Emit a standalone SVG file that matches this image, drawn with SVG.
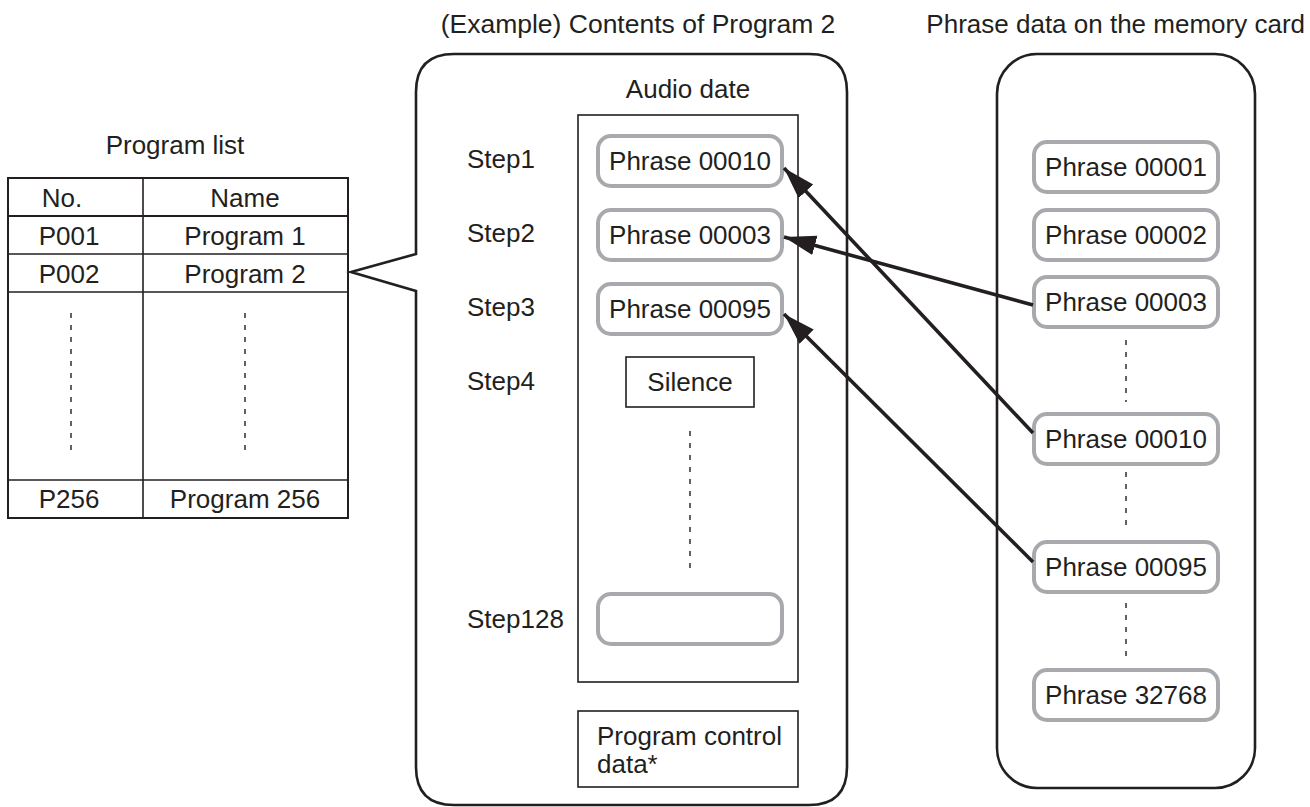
<svg xmlns="http://www.w3.org/2000/svg" width="1310" height="807" viewBox="0 0 1310 807">
<style>
text{font-family:"Liberation Sans",Arial,sans-serif;font-size:26px;fill:#231f20}
.c{text-anchor:middle}
.ph{fill:#fff;stroke:#a7a9ac;stroke-width:4}
.thin{fill:none;stroke:#231f20;stroke-width:1.6}
.panel{fill:none;stroke:#231f20;stroke-width:2.6}
.dash{fill:none;stroke:#231f20;stroke-width:1.4;stroke-dasharray:5 7}
.arr{fill:none;stroke:#231f20;stroke-width:3.6}
</style>
<defs>
<marker id="ah" markerUnits="userSpaceOnUse" markerWidth="34" markerHeight="24" viewBox="0 -12 34 24" refX="32" refY="0" orient="auto">
<path d="M0,-10 L32,0 L0,10 Z" fill="#231f20"/>
</marker>
</defs>

<g id="program-list">
<text class="c" x="175" y="154">Program list</text>
<rect x="8" y="178" width="340" height="340" fill="#fff" stroke="#231f20" stroke-width="2"/>
<line class="thin" x1="143" y1="178" x2="143" y2="518"/>
<line x1="8" y1="216" x2="348" y2="216" stroke="#231f20" stroke-width="2.2"/>
<line class="thin" x1="8" y1="254" x2="348" y2="254"/>
<line class="thin" x1="8" y1="292" x2="348" y2="292"/>
<line class="thin" x1="8" y1="480" x2="348" y2="480"/>
<text class="c" x="62" y="207">No.</text>
<text class="c" x="245" y="207">Name</text>
<text class="c" x="69" y="245">P001</text>
<text class="c" x="245" y="245">Program 1</text>
<text class="c" x="69" y="283">P002</text>
<text class="c" x="245" y="283">Program 2</text>
<line class="dash" x1="71" y1="313" x2="71" y2="456"/>
<line class="dash" x1="245" y1="313" x2="245" y2="456"/>
<text class="c" x="69" y="508">P256</text>
<text class="c" x="245" y="508">Program 256</text>
</g>

<g id="program-contents">
<text class="c" x="638" y="33" style="font-size:26.5px">(Example) Contents of Program 2</text>
<path class="panel" d="M454,54 L809,54 Q847,54 847,92 L847,767 Q847,805 809,805 L454,805 Q416,805 416,767 L416,291 L351,272 L416,254 L416,92 Q416,54 454,54 Z"/>
<text class="c" x="688" y="98">Audio date</text>
<rect class="thin" x="578" y="115" width="220" height="567"/>
<text x="467" y="168">Step1</text>
<text x="467" y="242">Step2</text>
<text x="467" y="316">Step3</text>
<text x="467" y="390">Step4</text>
<text x="467" y="628">Step128</text>
</g>

<g id="step1"><rect class="ph" x="598" y="136" width="184" height="50" rx="13"/><text class="c" x="690" y="170">Phrase 00010</text></g>
<g id="step2"><rect class="ph" x="598" y="210" width="184" height="50" rx="13"/><text class="c" x="690" y="244">Phrase 00003</text></g>
<g id="step3"><rect class="ph" x="598" y="284" width="184" height="50" rx="13"/><text class="c" x="690" y="318">Phrase 00095</text></g>
<g id="step4"><rect class="thin" x="626" y="357" width="128" height="50" fill="#fff"/><text class="c" x="690" y="391">Silence</text></g>
<line class="dash" x1="690" y1="431" x2="690" y2="574"/>
<g id="step128"><rect class="ph" x="598" y="594" width="184" height="50" rx="13"/></g>
<g id="control-data"><rect class="thin" x="578" y="711" width="220" height="76"/><text x="597" y="745">Program control</text><text x="597" y="773">data*</text></g>

<g id="memory-card">
<text x="1305" y="33" style="text-anchor:end">Phrase data on the memory card</text>
<rect class="panel" x="997" y="54" width="258" height="734" rx="40"/>
<line class="dash" x1="1126" y1="340" x2="1126" y2="402"/>
<line class="dash" x1="1126" y1="472" x2="1126" y2="532"/>
<line class="dash" x1="1126" y1="603" x2="1126" y2="663"/>
</g>
<g id="m00001"><rect class="ph" x="1034" y="142" width="184" height="50" rx="13"/><text class="c" x="1126" y="176">Phrase 00001</text></g>
<g id="m00002"><rect class="ph" x="1034" y="210" width="184" height="50" rx="13"/><text class="c" x="1126" y="244">Phrase 00002</text></g>
<g id="m00003"><rect class="ph" x="1034" y="277" width="184" height="50" rx="13"/><text class="c" x="1126" y="311">Phrase 00003</text></g>
<g id="m00010"><rect class="ph" x="1034" y="414" width="184" height="50" rx="13"/><text class="c" x="1126" y="448">Phrase 00010</text></g>
<g id="m00095"><rect class="ph" x="1034" y="542" width="184" height="50" rx="13"/><text class="c" x="1126" y="576">Phrase 00095</text></g>
<g id="m32768"><rect class="ph" x="1034" y="670" width="184" height="50" rx="13"/><text class="c" x="1126" y="704">Phrase 32768</text></g>

<g id="connectors">
<line class="arr" x1="1033" y1="433" x2="784" y2="168" marker-end="url(#ah)"/>
<line class="arr" x1="1033" y1="305" x2="784" y2="237" marker-end="url(#ah)"/>
<line class="arr" x1="1033" y1="562" x2="784" y2="314" marker-end="url(#ah)"/>
</g>
</svg>
